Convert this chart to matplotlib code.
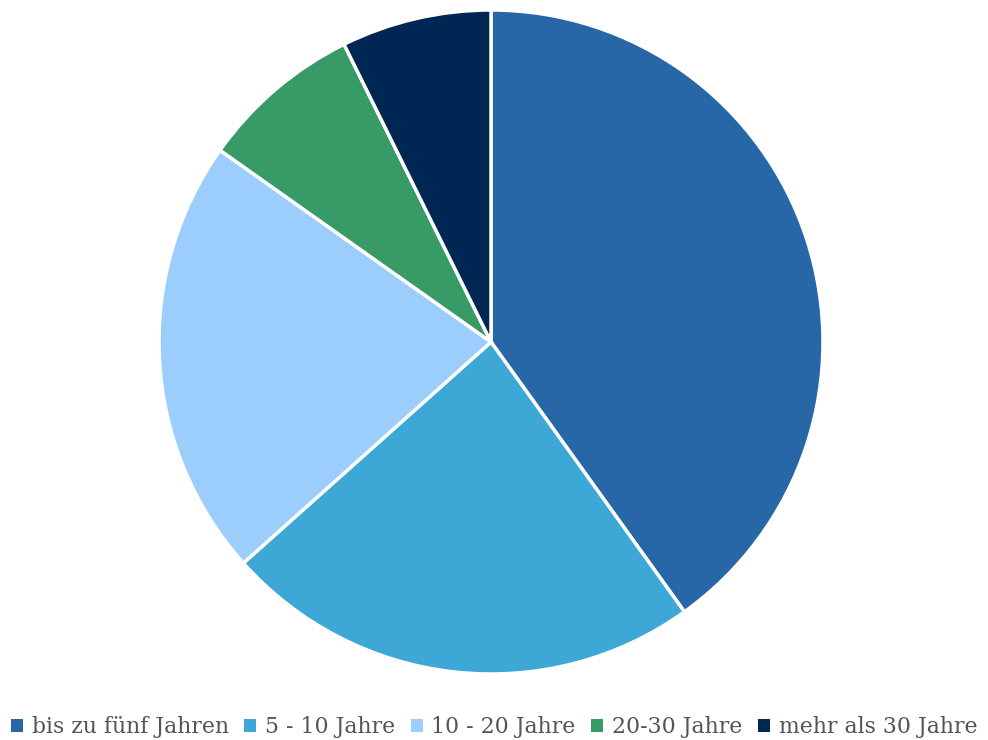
import matplotlib.pyplot as plt
from matplotlib.patches import Patch

labels = ['bis zu fünf Jahren', '5 - 10 Jahre', '10 - 20 Jahre', '20-30 Jahre', 'mehr als 30 Jahre']
values = [40.1, 23.3, 21.4, 7.9, 7.3]
colors = ['#2767A8', '#3DA7D6', '#9BCDFD', '#379A67', '#002654']

fig = plt.figure(figsize=(9.88, 7.4), dpi=100)
ax = fig.add_axes([0, 0, 1, 1])

ax.pie(values, colors=colors, startangle=90, counterclock=False,
       center=(491, 398), radius=332,
       wedgeprops=dict(edgecolor='white', linewidth=2.5))

# limites in Pixeln, nach pie() setzen
ax.set_xlim(0, 988)
ax.set_ylim(0, 740)
ax.set_aspect('equal')
ax.axis('off')

handles = [Patch(facecolor=c, edgecolor='none') for c in colors]
fig.legend(handles, labels, loc='center', bbox_to_anchor=(0.5, 1 - 727 / 740),
           ncol=5, frameon=False, handlelength=0.55, handleheight=0.55,
           handletextpad=0.4, columnspacing=0.7,
           prop=dict(family='DejaVu Serif', size=15.8), labelcolor='#555555')

fig.savefig('out.png', dpi=100)
